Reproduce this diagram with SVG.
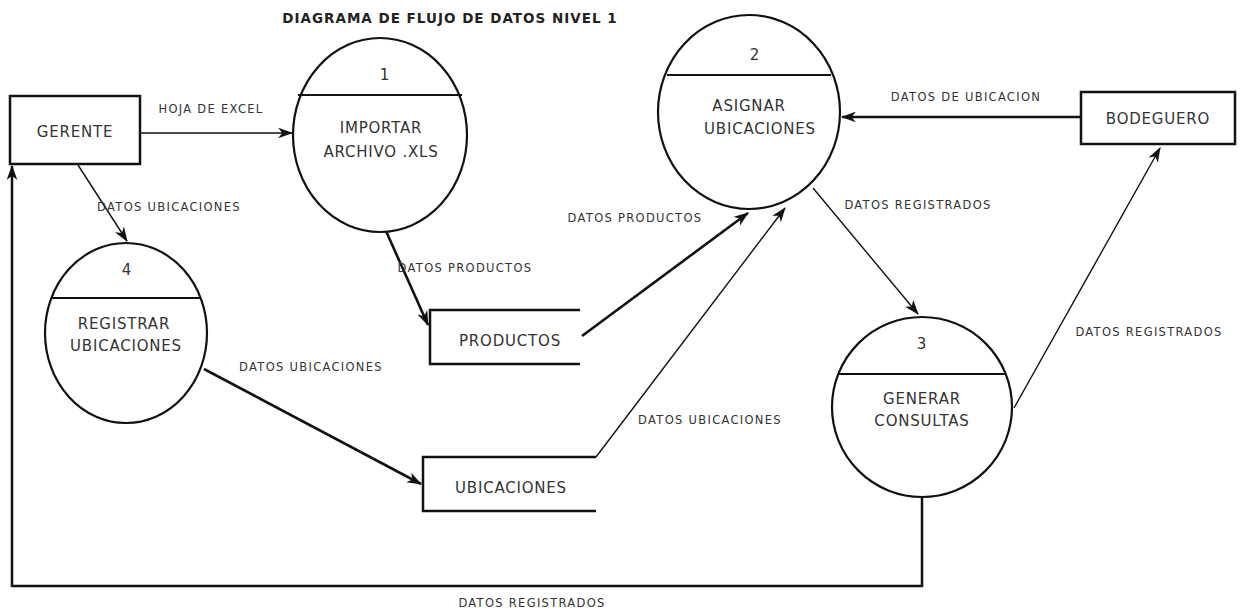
<svg xmlns="http://www.w3.org/2000/svg" width="1241" height="612" viewBox="0 0 1241 612">
<style>
.box{fill:#fff;stroke:#111;stroke-width:2.5}
.proc{fill:#fff;stroke:#111;stroke-width:2.2}
.div{stroke:#111;stroke-width:2}
.store{fill:none;stroke:#111;stroke-width:2.5}
.nt{font-family:"DejaVu Sans",Verdana,sans-serif;font-size:15px;fill:#333;text-anchor:middle;letter-spacing:0.8px}
.lb{font-family:"DejaVu Sans",Verdana,sans-serif;font-size:11.5px;fill:#333;text-anchor:middle;letter-spacing:1.3px}
.ttl{font-family:"DejaVu Sans",Verdana,sans-serif;font-size:13.5px;font-weight:bold;fill:#222;text-anchor:middle;letter-spacing:1px}
.c{fill:none;stroke:#111;stroke-width:1.4}
.ck{fill:none;stroke:#111;stroke-width:2.6}
.cb{fill:none;stroke:#111;stroke-width:2.5}
</style>
<defs>
<marker id="ah" viewBox="0 0 14 10" refX="13" refY="5" markerWidth="15" markerHeight="11" markerUnits="userSpaceOnUse" orient="auto">
<path d="M0,0 L14,5 L0,10 L4,5 z" fill="#111"/>
</marker>
</defs>
<rect width="1241" height="612" fill="#fff"/>
<text class="ttl" x="450" y="23">DIAGRAMA DE FLUJO DE DATOS NIVEL 1</text>

<g id="connectors">
<path class="c" d="M140,133 L292,133" marker-end="url(#ah)"/>
<path class="c" d="M78,165 L127,241" marker-end="url(#ah)"/>
<path class="ck" d="M386,231 L428,325" marker-end="url(#ah)"/>
<path class="ck" d="M582,336 L748,213" marker-end="url(#ah)"/>
<path class="c" d="M596,457 L785,208" marker-end="url(#ah)"/>
<path class="ck" d="M204,369 L421,484" marker-end="url(#ah)"/>
<path class="cb" d="M1081,117 L842,117" marker-end="url(#ah)"/>
<path class="c" d="M813,188 L918,314" marker-end="url(#ah)"/>
<path class="c" d="M1014,408 L1160,148" marker-end="url(#ah)"/>
<path class="cb" d="M922,497 L922,586 L12,586 L12,166" marker-end="url(#ah)"/>
<text class="lb" x="211" y="113">HOJA DE EXCEL</text>
<text class="lb" x="169" y="211">DATOS UBICACIONES</text>
<text class="lb" x="465" y="272">DATOS PRODUCTOS</text>
<text class="lb" x="635" y="222">DATOS PRODUCTOS</text>
<text class="lb" x="710" y="424">DATOS UBICACIONES</text>
<text class="lb" x="311" y="371">DATOS UBICACIONES</text>
<text class="lb" x="966" y="101">DATOS DE UBICACION</text>
<text class="lb" x="918" y="209">DATOS REGISTRADOS</text>
<text class="lb" x="1149" y="336">DATOS REGISTRADOS</text>
<text class="lb" x="532" y="607">DATOS REGISTRADOS</text>
</g>

<g id="gerente">
<rect class="box" x="10" y="96" width="130" height="68"/>
<text class="nt" x="75" y="137">GERENTE</text>
</g>

<g id="bodeguero">
<rect class="box" x="1081" y="92" width="154" height="52"/>
<text class="nt" x="1158" y="124">BODEGUERO</text>
</g>

<g id="p1">
<ellipse class="proc" cx="380" cy="135" rx="87" ry="97"/>
<line class="div" x1="298" y1="95" x2="462" y2="95"/>
<text class="nt" x="385" y="80">1</text>
<text class="nt" x="381" y="133">IMPORTAR</text>
<text class="nt" x="381" y="157">ARCHIVO .XLS</text>
</g>

<g id="p2">
<ellipse class="proc" cx="749" cy="112" rx="91" ry="97"/>
<line class="div" x1="667" y1="75" x2="831" y2="75"/>
<text class="nt" x="755" y="60">2</text>
<text class="nt" x="749" y="111">ASIGNAR</text>
<text class="nt" x="760" y="134">UBICACIONES</text>
</g>

<g id="p3">
<ellipse class="proc" cx="922" cy="407" rx="90" ry="90"/>
<line class="div" x1="838" y1="374" x2="1006" y2="374"/>
<text class="nt" x="922" y="349">3</text>
<text class="nt" x="922" y="404">GENERAR</text>
<text class="nt" x="922" y="426">CONSULTAS</text>
</g>

<g id="p4">
<ellipse class="proc" cx="126" cy="333" rx="81" ry="90"/>
<line class="div" x1="51" y1="298" x2="201" y2="298"/>
<text class="nt" x="127" y="275">4</text>
<text class="nt" x="124" y="329">REGISTRAR</text>
<text class="nt" x="126" y="351">UBICACIONES</text>
</g>

<g id="productos">
<path class="store" d="M580,310 L430,310 L430,364 L580,364"/>
<text class="nt" x="510" y="346">PRODUCTOS</text>
</g>

<g id="ubicaciones">
<path class="store" d="M596,457 L423,457 L423,511 L596,511"/>
<text class="nt" x="511" y="493">UBICACIONES</text>
</g>
</svg>
